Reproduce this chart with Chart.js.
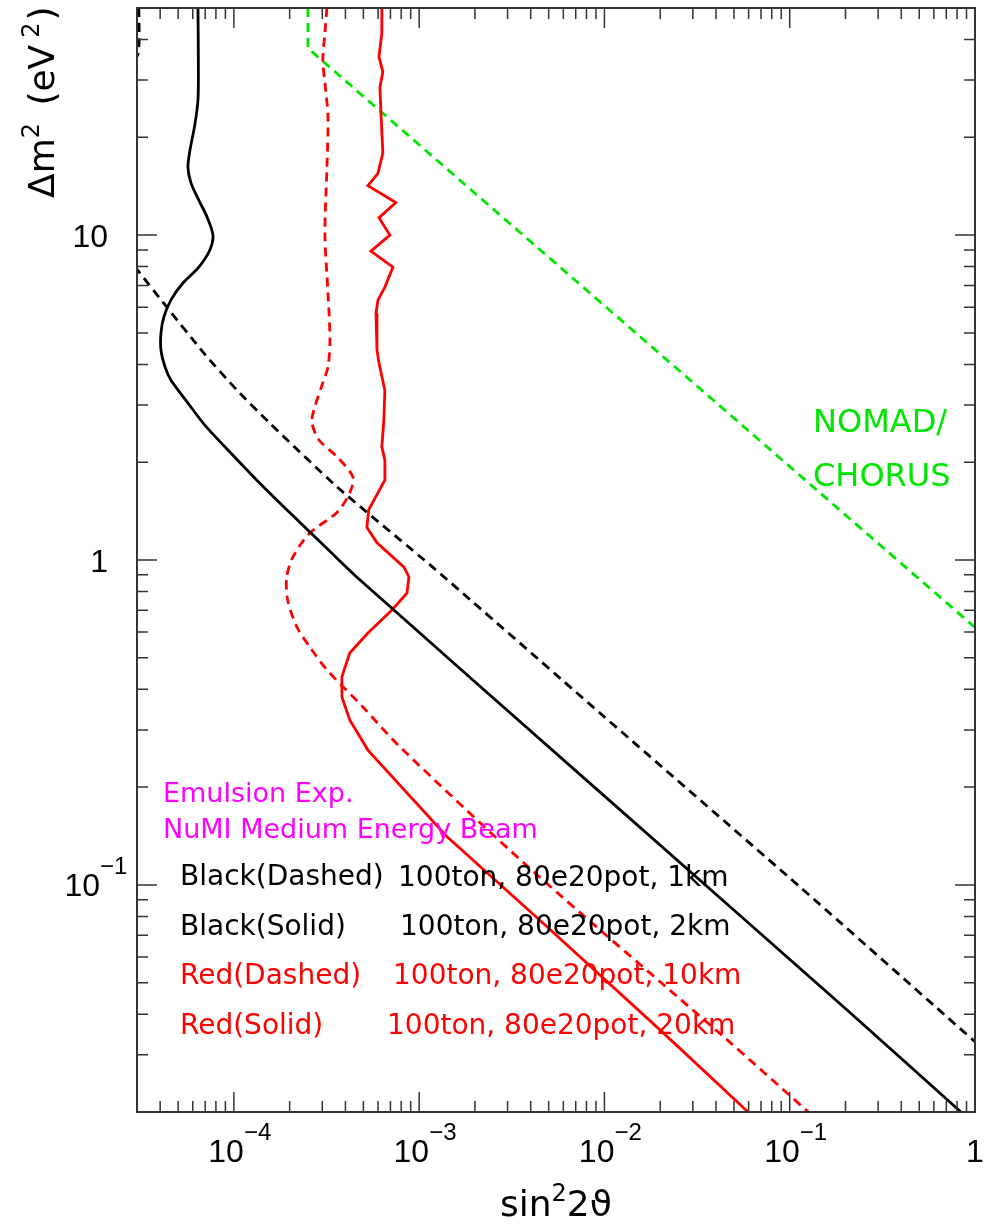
<!DOCTYPE html>
<html>
<head>
<meta charset="utf-8">
<script src="https://cdn.jsdelivr.net/npm/chart.js@4.4.1/dist/chart.umd.min.js"></script>
<style>
  html, body { margin: 0; padding: 0; background: #fff; }
  #wrap { width: 991px; height: 1224px; }
</style>
</head>
<body>
<div id="wrap"><canvas id="sensChart" width="991" height="1224"></canvas></div>
<script>
// sensitivity contours, Δm² (eV²) against sin²2ϑ
const dm2Black1km  = [50, 36.3, 33, null, 8.68, 7.64, 6.10, 4.33, 3.33, 2.64, 1.68, 0.944, 0.338, 0.0986, 0.0329];
const sin2Black1km = [3.07e-5, 3.05e-5, 2.7e-5, null, 2.58e-5, 3.11e-5, 4.25e-5, 6.89e-5, 1.04e-4, 1.56e-4, 3.60e-4, 1.20e-3, 9.46e-3, 0.1135, 1];

const dm2Black2km  = [50, 34.5, 26, 21.8, 18.3, 16.2, 14.5, 12.8, 11.4, 10, 9.0, 7.97, 7.12, 6.31, 5.60, 4.99, 4.43, 3.93, 3.58, 3.10, 2.60, 2.23, 1.76, 1.40, 1.10, 0.887, 0.193, 0.0412, 0.02];
const sin2Black2km = [6.4e-5, 6.43e-5, 6.4e-5, 6.15e-5, 5.8e-5, 5.65e-5, 5.86e-5, 6.47e-5, 7.15e-5, 7.71e-5, 7.42e-5, 6.47e-5, 5.31e-5, 4.57e-5, 4.19e-5, 4.04e-5, 4.04e-5, 4.25e-5, 4.57e-5, 5.51e-5, 6.97e-5, 8.94e-5, 1.33e-4, 2.0e-4, 3.1e-4, 4.6e-4, 9.46e-3, 0.204, 0.84];

const dm2Red10km  = [50, 41.9, 34.5, 29.4, 23.1, 16.2, 10.1, 6.64, 4.75, 3.93, 3.51, 2.89, 2.64, 2.34, 2.08, 1.80, 1.61, 1.40, 1.21, 1.02, 0.887, 0.754, 0.622, 0.540, 0.459, 0.353, 0.266, 0.111, 0.034, 0.02];
const sin2Red10km = [3.18e-4, 3.10e-4, 3.02e-4, 3.10e-4, 3.22e-4, 3.18e-4, 3.10e-4, 3.22e-4, 3.30e-4, 3.22e-4, 3.02e-4, 2.70e-4, 2.64e-4, 2.88e-4, 3.60e-4, 4.39e-4, 4.22e-4, 3.60e-4, 2.57e-4, 2.08e-4, 1.93e-4, 1.95e-4, 2.19e-4, 2.57e-4, 3.18e-4, 4.97e-4, 7.87e-4, 4.06e-3, 0.0442, 0.126];

const dm2Red20km  = [50, 41.9, 35.3, 31.8, 28.5, 23.7, 17.9, 15.5, 14.2, 12.6, 11.3, 10.0, 8.93, 7.97, 6.92, 6.31, 5.75, 4.43, 4.04, 3.33, 2.70, 2.23, 2.03, 1.76, 1.43, 1.26, 1.13, 0.951, 0.887, 0.791, 0.702, 0.596, 0.517, 0.437, 0.379, 0.322, 0.260, 0.141, 0.0743, 0.0351, 0.02];
const sin2Red20km = [6.29e-4, 6.29e-4, 6.07e-4, 6.37e-4, 6.14e-4, 6.22e-4, 6.37e-4, 5.99e-4, 5.29e-4, 7.48e-4, 6.07e-4, 6.95e-4, 5.49e-4, 7.22e-4, 6.53e-4, 5.99e-4, 5.85e-4, 5.92e-4, 6.07e-4, 6.53e-4, 6.45e-4, 6.29e-4, 6.53e-4, 6.53e-4, 5.35e-4, 5.22e-4, 5.92e-4, 8.28e-4, 8.81e-4, 8.59e-4, 7.13e-4, 5.29e-4, 4.22e-4, 3.83e-4, 3.83e-4, 4.22e-4, 5.29e-4, 1.41e-3, 4.90e-3, 0.0207, 0.0596];

const dm2Nomad  = [50, 37.6, 0.62];
const sin2Nomad = [2.51e-4, 2.51e-4, 1];

// axis ranges and labelled ticks
const xRange = [3e-5, 1];
const yRange = [0.02, 50];
const xMajor = [1e-4, 1e-3, 1e-2, 1e-1, 1];
const xTickText = [['10', '−4'], ['10', '−3'], ['10', '−2'], ['10', '−1'], ['1', '']];
const yMajor = [0.1, 1, 10];
const yTickText = [['10', '−1'], ['1', ''], ['10', '']];

function pts(xs, ys) {
    let out = [];
    for (let i = 0; i < xs.length; i++) {
        out.push({x: xs[i], y: ys[i]});
    }
    return out;
}

const noClip = {left: 0, top: 0, right: 0, bottom: 0};

const data = {
    datasets: [
        {data: pts(sin2Black1km, dm2Black1km), borderColor: '#000', borderDash: [9, 6], tension: 0.2},
        {data: pts(sin2Black2km, dm2Black2km), borderColor: '#000', tension: 0.3},
        {data: pts(sin2Red10km, dm2Red10km), borderColor: '#ff0000', borderDash: [9, 6], tension: 0.3},
        {data: pts(sin2Red20km, dm2Red20km), borderColor: '#ff0000', tension: 0},
        {data: pts(sin2Nomad, dm2Nomad), borderColor: '#00e600', borderDash: [9, 6], tension: 0}
    ].map(d => Object.assign({showLine: true, pointRadius: 0, borderWidth: 2.8, fill: false, clip: noClip}, d))
};

function drawPow(ctx, base, exp, x, y, align, size) {
    ctx.font = size + 'px "Liberation Sans", "DejaVu Sans"';
    ctx.textAlign = align;
    ctx.fillText(base, x, y);
    if (exp) {
        ctx.font = Math.round(size * 0.75) + 'px "Liberation Sans", "DejaVu Sans"';
        ctx.textAlign = 'left';
        ctx.fillText(exp, x, y - 22);
    }
}

// draw a run of [text, size, raise, gap] pieces from x along the baseline
function drawRun(ctx, pieces, x, y) {
    pieces.forEach(p => {
        ctx.font = p[1] + 'px "DejaVu Sans"';
        ctx.textAlign = 'left';
        ctx.fillText(p[0], x, y - p[2]);
        x += ctx.measureText(p[0]).width + (p[3] || 0);
    });
}

function runWidth(ctx, pieces) {
    let w = 0;
    pieces.forEach(p => {
        ctx.font = p[1] + 'px "DejaVu Sans"';
        w += ctx.measureText(p[0]).width + (p[3] || 0);
    });
    return w;
}

const framePlugin = {
    id: 'framePlugin',
    afterDraw(chart) {
        const ctx = chart.ctx;
        const a = chart.chartArea;
        const xs = chart.scales.x;
        const ys = chart.scales.y;
        ctx.save();

        // inward ticks on all four sides
        ctx.strokeStyle = '#333';
        ctx.lineWidth = 1.5;
        ctx.beginPath();
        for (let d = -5; d <= 1; d++) {
            for (let m = 1; m <= 9; m++) {
                const v = m * Math.pow(10, d);
                const len = m === 1 ? 20 : 11;
                if (v >= xRange[0] * 0.999 && v <= xRange[1] * 1.001) {
                    const px = xs.getPixelForValue(v);
                    ctx.moveTo(px, a.bottom); ctx.lineTo(px, a.bottom - len);
                    ctx.moveTo(px, a.top); ctx.lineTo(px, a.top + len);
                }
                if (v >= yRange[0] * 0.999 && v <= yRange[1] * 1.001) {
                    const py = ys.getPixelForValue(v);
                    ctx.moveTo(a.left, py); ctx.lineTo(a.left + len, py);
                    ctx.moveTo(a.right, py); ctx.lineTo(a.right - len, py);
                }
            }
        }
        ctx.stroke();

        ctx.lineWidth = 2;
        ctx.strokeRect(a.left, a.top, a.right - a.left, a.bottom - a.top);

        // tick labels
        ctx.fillStyle = '#000';
        ctx.textBaseline = 'alphabetic';
        xMajor.forEach((v, i) => {
            const px = xs.getPixelForValue(v);
            const t = xTickText[i];
            if (t[1]) {
                drawPow(ctx, t[0], t[1], px + 10, a.bottom + 50, 'right', 32);
            } else {
                drawPow(ctx, t[0], '', px, a.bottom + 50, 'center', 32);
            }
        });
        yMajor.forEach((v, i) => {
            const py = ys.getPixelForValue(v);
            const t = yTickText[i];
            if (t[1]) {
                drawPow(ctx, t[0], t[1], a.left - 37, py + 11, 'right', 32);
            } else {
                drawPow(ctx, t[0], '', a.left - 29, py + 12, 'right', 32);
            }
        });

        // axis titles
        const xTitle = [['sin', 36, 0], ['2', 24, 15], ['2ϑ', 36, 0]];
        const xw = runWidth(ctx, xTitle);
        drawRun(ctx, xTitle, (a.left + a.right) / 2 - xw / 2, a.bottom + 104);

        ctx.save();
        ctx.translate(54, 198);
        ctx.rotate(-Math.PI / 2);
        drawRun(ctx, [['Δm', 36, 0], ['2', 24, 15, 6], [' (eV', 36, 0, 7], ['2', 24, 15, 2], [')', 36, 0]], 0, 0);
        ctx.restore();

        // notes
        ctx.textAlign = 'left';
        ctx.font = '27px "DejaVu Sans"';
        ctx.fillStyle = '#ff00ff';
        ctx.fillText('Emulsion Exp.', 163, 802);
        ctx.fillText('NuMI Medium Energy Beam', 163, 838);

        ctx.font = '28px "DejaVu Sans"';
        ctx.fillStyle = '#000';
        ctx.fillText('Black(Dashed)', 180, 885);
        ctx.fillText('100ton, 80e20pot, 1km', 398, 886);
        ctx.fillText('Black(Solid)', 180, 935);
        ctx.fillText('100ton, 80e20pot, 2km', 400, 935);
        ctx.fillStyle = '#ff0000';
        ctx.fillText('Red(Dashed)', 180, 984);
        ctx.fillText('100ton, 80e20pot, 10km', 393, 984);
        ctx.fillText('Red(Solid)', 180, 1034);
        ctx.fillText('100ton, 80e20pot, 20km', 387, 1034);

        ctx.font = '32px "DejaVu Sans"';
        ctx.fillStyle = '#00e600';
        ctx.fillText('NOMAD/', 813, 432);
        ctx.fillText('CHORUS', 813, 486);

        ctx.restore();
    }
};

const config = {
    type: 'scatter',
    data: data,
    options: {
        responsive: false,
        animation: false,
        devicePixelRatio: 1,
        layout: {
            padding: {left: 137, right: 16, top: 8, bottom: 112}
        },
        plugins: {
            legend: {display: false},
            tooltip: {enabled: false}
        },
        scales: {
            x: {type: 'logarithmic', min: xRange[0], max: xRange[1], display: false},
            y: {type: 'logarithmic', min: yRange[0], max: yRange[1], display: false}
        }
    },
    plugins: [framePlugin]
};

new Chart(document.getElementById('sensChart'), config);
</script>
</body>
</html>
